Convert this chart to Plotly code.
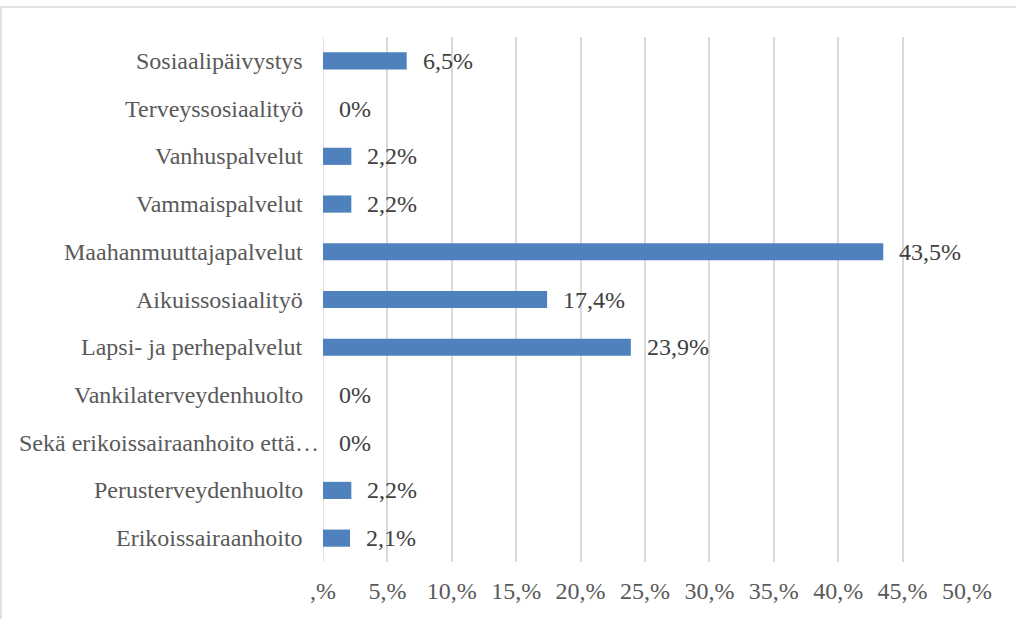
import plotly.graph_objects as go

# Share of respondents by service sector (%), listed bottom to top
categories = [
    "Erikoissairaanhoito",
    "Perusterveydenhuolto",
    "Sekä erikoissairaanhoito että…",
    "Vankilaterveydenhuolto",
    "Lapsi- ja perhepalvelut",
    "Aikuissosiaalityö",
    "Maahanmuuttajapalvelut",
    "Vammaispalvelut",
    "Vanhuspalvelut",
    "Terveyssosiaalityö",
    "Sosiaalipäivystys",
]
values = [2.1, 2.2, 0, 0, 23.9, 17.4, 43.5, 2.2, 2.2, 0, 6.5]

tick_vals = [0, 5, 10, 15, 20, 25, 30, 35, 40, 45, 50]
tick_text = [",%", "5,%", "10,%", "15,%", "20,%", "25,%", "30,%", "35,%", "40,%", "45,%", "50,%"]

FONT = "Liberation Serif"
SIZE = 24
TEXT_COLOR = "#595959"
GRID = "#D9D9D9"


def fmt(v):
    if v == 0:
        return "0%"
    return f"{v:.1f}".replace(".", ",") + "%"


fig = go.Figure(
    go.Bar(
        x=values,
        y=categories,
        orientation="h",
        width=0.36,
        marker=dict(color="#4F81BD", line=dict(width=0)),
        hoverinfo="skip",
    )
)

# value labels to the right of each bar
for cat, v in zip(categories, values):
    fig.add_annotation(
        x=v, y=cat, text=fmt(v), showarrow=False,
        xanchor="left", yanchor="middle", xshift=14,
        font=dict(family=FONT, size=SIZE, color="#404040"),
    )

# category names; the truncated one runs up to the axis
for cat in categories:
    fig.add_annotation(
        x=0, y=cat, xref="paper", yref="y", text=cat, showarrow=False,
        xanchor="right", yanchor="middle",
        xshift=-2 if cat.endswith("…") else -18,
        font=dict(family=FONT, size=SIZE, color=TEXT_COLOR),
    )

# light frame around the chart area
fig.add_shape(
    type="rect", xref="paper", yref="paper",
    x0=-322 / 644, x1=1.2, y0=-0.2, y1=(562 - 7) / 525,
    line=dict(color=GRID, width=1.5), layer="below",
)

fig.update_layout(
    width=1016, height=619,
    margin=dict(l=323, r=49, t=37, b=57),
    paper_bgcolor="white", plot_bgcolor="white",
    showlegend=False,
    font=dict(family=FONT, size=SIZE, color=TEXT_COLOR),
    xaxis=dict(
        range=[0, 50], tickvals=tick_vals, ticktext=tick_text,
        showgrid=True, gridcolor=GRID, gridwidth=1.5,
        zeroline=False, showline=False, ticks="",
        ticklabelstandoff=12,
        tickfont=dict(family=FONT, size=SIZE, color=TEXT_COLOR),
        fixedrange=True,
    ),
    yaxis=dict(
        categoryorder="array", categoryarray=categories,
        range=[-0.5, 10.5],
        showgrid=False, zeroline=False, showline=False, ticks="",
        showticklabels=False,
        fixedrange=True,
    ),
)

# the zero gridline drawn as a vertical line so it shows at x=0
fig.add_shape(
    type="line", xref="x", yref="paper", x0=0, x1=0, y0=0, y1=1,
    line=dict(color=GRID, width=1.5), layer="below",
)

fig.write_html("out.html", config={"displayModeBar": False})
